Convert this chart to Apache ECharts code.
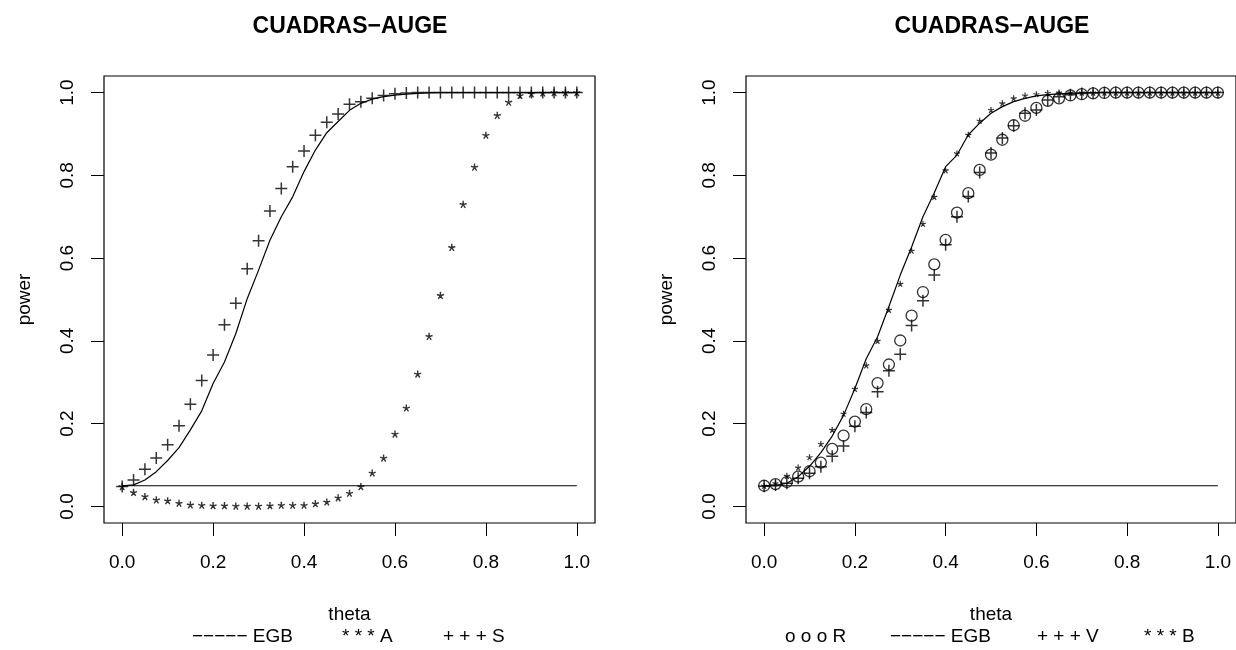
<!DOCTYPE html>
<html>
<head>
<meta charset="utf-8">
<script src="https://cdn.jsdelivr.net/npm/echarts@6/dist/echarts.min.js"></script>
<style>
  body { margin: 0; background: #fff; }
  #chart { width: 1236px; height: 650px; }
</style>
</head>
<body>
<div id="chart"></div>
<script>
// theta grid (41 points)
const theta = [0, 0.025, 0.05, 0.075, 0.1, 0.125, 0.15, 0.175, 0.2, 0.225,
  0.25, 0.275, 0.3, 0.325, 0.35, 0.375, 0.4, 0.425, 0.45, 0.475,
  0.5, 0.525, 0.55, 0.575, 0.6, 0.625, 0.65, 0.675, 0.7, 0.725,
  0.75, 0.775, 0.8, 0.825, 0.85, 0.875, 0.9, 0.925, 0.95, 0.975, 1];
const alphaLevel = 0.05;
const tickValues = [0, 0.2, 0.4, 0.6, 0.8, 1];

// left panel
const egbLeft = [0.05, 0.052, 0.064, 0.084, 0.111, 0.142, 0.185, 0.231, 0.297, 0.349,
  0.418, 0.502, 0.571, 0.643, 0.700, 0.748, 0.809, 0.861, 0.903, 0.930,
  0.957, 0.974, 0.984, 0.990, 0.994, 0.996, 0.998, 0.999, 1, 1,
  1, 1, 1, 1, 1, 1, 1, 1, 1, 1, 1];
const powerA = [0.048, 0.034, 0.024, 0.016, 0.014, 0.008, 0.004, 0.003, 0.002, 0.002,
  0.001, 0.001, 0.001, 0.002, 0.003, 0.003, 0.003, 0.007, 0.011, 0.021,
  0.032, 0.048, 0.081, 0.117, 0.175, 0.238, 0.320, 0.411, 0.510, 0.626,
  0.730, 0.820, 0.897, 0.945, 0.977, 0.993, 0.997, 0.999, 1, 1, 1];
const powerS = [0.048, 0.064, 0.090, 0.117, 0.149, 0.195, 0.247, 0.304, 0.366, 0.439,
  0.491, 0.574, 0.642, 0.714, 0.768, 0.821, 0.859, 0.897, 0.928, 0.948,
  0.972, 0.978, 0.986, 0.993, 0.997, 0.999, 1, 1, 1, 1,
  1, 1, 1, 1, 1, 1, 1, 1, 1, 1, 1];

// right panel
const powerR = [0.050, 0.054, 0.059, 0.072, 0.085, 0.106, 0.139, 0.171, 0.205, 0.235,
  0.298, 0.343, 0.401, 0.461, 0.518, 0.585, 0.644, 0.710, 0.757, 0.813,
  0.850, 0.886, 0.921, 0.944, 0.963, 0.980, 0.986, 0.993, 0.996, 0.998,
  0.999, 1, 1, 1, 1, 1, 1, 1, 1, 1, 1];
const egbRight = [0.050, 0.050, 0.056, 0.072, 0.097, 0.130, 0.170, 0.220, 0.285, 0.357,
  0.410, 0.483, 0.559, 0.627, 0.700, 0.758, 0.821, 0.849, 0.898, 0.926,
  0.950, 0.966, 0.978, 0.986, 0.992, 0.995, 0.997, 0.998, 0.999, 1,
  1, 1, 1, 1, 1, 1, 1, 1, 1, 1, 1];
const powerV = [0.049, 0.052, 0.056, 0.068, 0.080, 0.096, 0.121, 0.146, 0.194, 0.227,
  0.277, 0.328, 0.368, 0.437, 0.497, 0.559, 0.632, 0.700, 0.749, 0.807,
  0.854, 0.890, 0.920, 0.950, 0.958, 0.982, 0.990, 0.995, 0.998, 0.999,
  1, 1, 1, 1, 1, 1, 1, 1, 1, 1, 1];
const powerB = [0.050, 0.056, 0.074, 0.094, 0.119, 0.151, 0.185, 0.224, 0.284, 0.341,
  0.400, 0.475, 0.538, 0.618, 0.683, 0.748, 0.812, 0.853, 0.898, 0.932,
  0.958, 0.974, 0.986, 0.993, 0.996, 0.999, 1, 1, 1, 1,
  1, 1, 1, 1, 1, 1, 1, 1, 1, 1, 1];

const FONT = '"Liberation Sans", Arial, Helvetica, sans-serif';
const PLUS = 'path://M-1,0L1,0M0,-1L0,1';
const STAR = 'path://M0,-1L0,0M0.951,-0.309L0,0M0.588,0.809L0,0M-0.588,0.809L0,0M-0.951,-0.309L0,0';

function pairs(ys) {
  return theta.map((t, i) => [t, ys[i]]);
}

function xAxisDef(gi) {
  return {
    gridIndex: gi, type: 'value', min: -0.04, max: 1.04,
    name: 'theta', nameLocation: 'middle', nameGap: 82,
    nameTextStyle: { fontFamily: FONT, fontSize: 19, color: '#000' },
    axisLine: { show: false, onZero: false },
    splitLine: { show: false },
    axisTick: { show: true, inside: false, length: 13, customValues: tickValues,
      lineStyle: { color: '#000', width: 1 } },
    axisLabel: { customValues: tickValues, margin: 30, fontFamily: FONT, fontSize: 19, color: '#000',
      formatter: v => v.toFixed(1) }
  };
}
function yAxisDef(gi) {
  return {
    gridIndex: gi, type: 'value', min: -0.04, max: 1.04,
    name: 'power', nameLocation: 'middle', nameGap: 70,
    nameTextStyle: { fontFamily: FONT, fontSize: 19, color: '#000' },
    axisLine: { show: false, onZero: false },
    splitLine: { show: false },
    axisTick: { show: true, inside: false, length: 13, customValues: tickValues,
      lineStyle: { color: '#000', width: 1 } },
    axisLabel: { customValues: tickValues, rotate: 90, margin: 27, fontFamily: FONT, fontSize: 19, color: '#000',
      formatter: v => v.toFixed(1) }
  };
}
function curve(gi, ys) {
  return { type: 'line', xAxisIndex: gi, yAxisIndex: gi, data: pairs(ys),
    symbol: 'none', lineStyle: { color: '#000', width: 1.2 }, silent: true, animation: false };
}
function level(gi) {
  return { type: 'line', xAxisIndex: gi, yAxisIndex: gi,
    data: [[theta[0], alphaLevel], [theta[theta.length - 1], alphaLevel]],
    symbol: 'none', lineStyle: { color: '#000', width: 1.2 }, silent: true, animation: false };
}
function marks(gi, ys, symbol, size, bw) {
  return { type: 'scatter', xAxisIndex: gi, yAxisIndex: gi, data: pairs(ys),
    symbol: symbol, symbolSize: size, animation: false, silent: true,
    itemStyle: { color: 'rgba(0,0,0,0)', borderColor: '#000', borderWidth: bw } };
}
function legendText(x, text) {
  return { type: 'text', x: x, y: 637,
    style: { text: text, font: '19px ' + FONT, fill: '#000', textAlign: 'left', textVerticalAlign: 'middle' } };
}

const chart = echarts.init(document.getElementById('chart'));
chart.setOption({
  backgroundColor: '#fff',
  animation: false,
  title: [
    { text: 'CUADRAS\u2212AUGE', left: 350, top: 15, textAlign: 'center', padding: 0,
      textStyle: { fontFamily: FONT, fontSize: 23, fontWeight: 'bold', color: '#000' } },
    { text: 'CUADRAS\u2212AUGE', left: 992, top: 15, textAlign: 'center', padding: 0,
      textStyle: { fontFamily: FONT, fontSize: 23, fontWeight: 'bold', color: '#000' } }
  ],
  grid: [
    { left: 104, top: 76, width: 491, height: 447, show: true, borderColor: '#000', borderWidth: 1.2 },
    { left: 746, top: 76, width: 491, height: 447, show: true, borderColor: '#000', borderWidth: 1.2 }
  ],
  xAxis: [xAxisDef(0), xAxisDef(1)],
  yAxis: [yAxisDef(0), yAxisDef(1)],
  series: [
    curve(0, egbLeft),
    level(0),
    marks(0, powerA, STAR, 7, 1.4),
    marks(0, powerS, PLUS, 12, 1.5),
    curve(1, egbRight),
    level(1),
    marks(1, powerR, 'circle', 11, 1.3),
    marks(1, powerV, PLUS, 12, 1.5),
    marks(1, powerB, STAR, 6, 1.2)
  ],
  graphic: [
    legendText(192, '\u2212\u2212\u2212\u2212\u2212 EGB'),
    legendText(342, '* * * A'),
    legendText(443, '+ + + S'),
    legendText(785, 'o o o R'),
    legendText(890, '\u2212\u2212\u2212\u2212\u2212 EGB'),
    legendText(1037, '+ + + V'),
    legendText(1144, '* * * B')
  ]
});
</script>
</body>
</html>
